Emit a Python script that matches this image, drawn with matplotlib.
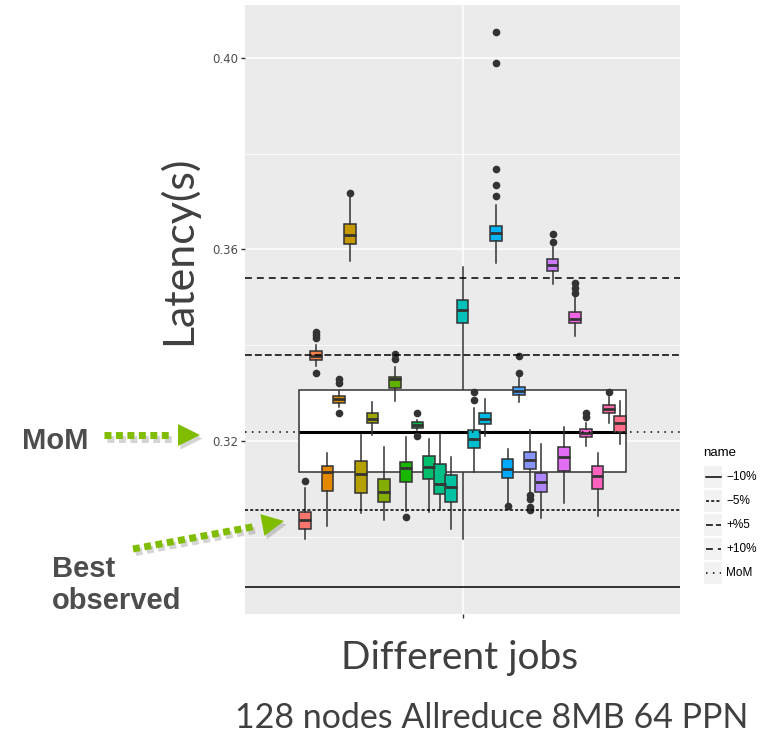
import numpy as np
import matplotlib
matplotlib.use('Agg')
import matplotlib.pyplot as plt
from matplotlib.lines import Line2D
from matplotlib.patches import Rectangle, Polygon

# ---- data (latency in seconds), one entry per job ----
job_med = [0.3035, 0.3378, 0.3136, 0.3287, 0.3630, 0.3131, 0.3247, 0.3093, 0.3330, 0.3143,
           0.3233, 0.3146, 0.3110, 0.3105, 0.3474, 0.3204, 0.3246, 0.3634, 0.3142, 0.3305,
           0.3160, 0.3115, 0.3568, 0.3167, 0.3455, 0.3217, 0.3127, 0.3267, 0.3237]
job_q1 = [0.3016, 0.3369, 0.3096, 0.3279, 0.3611, 0.3092, 0.3237, 0.3072, 0.3310, 0.3114,
          0.3228, 0.3120, 0.3089, 0.3073, 0.3447, 0.3185, 0.3235, 0.3618, 0.3123, 0.3296,
          0.3141, 0.3093, 0.3556, 0.3137, 0.3446, 0.3209, 0.3099, 0.3258, 0.3218]
job_q3 = [0.3051, 0.3388, 0.3148, 0.3295, 0.3653, 0.3158, 0.3258, 0.3121, 0.3334, 0.3157,
          0.3239, 0.3169, 0.3152, 0.3130, 0.3495, 0.3223, 0.3258, 0.3650, 0.3162, 0.3313,
          0.3178, 0.3134, 0.3580, 0.3188, 0.3470, 0.3225, 0.3148, 0.3275, 0.3253]
job_lo = [0.2995, 0.3357, 0.3023, 0.3271, 0.3576, 0.3049, 0.3213, 0.3036, 0.3284, 0.3054,
          0.3223, 0.3051, 0.3057, 0.3016, 0.2995, 0.3135, 0.3210, 0.3571, 0.3070, 0.3281,
          0.3091, 0.3040, 0.3527, 0.3070, 0.3420, 0.3190, 0.3044, 0.3238, 0.3193]
job_hi = [0.3103, 0.3401, 0.3176, 0.3304, 0.3710, 0.3213, 0.3281, 0.3187, 0.3355, 0.3208,
          0.3244, 0.3204, 0.3215, 0.3166, 0.3563, 0.3270, 0.3287, 0.3693, 0.3183, 0.3334,
          0.3223, 0.3194, 0.3606, 0.3230, 0.3503, 0.3238, 0.3176, 0.3293, 0.3284]
job_fliers = [[0.3117], [0.3428, 0.3421, 0.3415, 0.3343], [], [0.3329, 0.3321, 0.3258],
              [0.3717], [], [], [], [0.3382, 0.3371], [0.3042],
              [0.3259, 0.3210], [], [], [], [],
              [0.3302, 0.3286], [], [0.3712, 0.3735, 0.3768, 0.3990, 0.4053], [0.3064],
              [0.3343, 0.3378], [0.3087, 0.3080, 0.3062, 0.3056], [],
              [0.3632, 0.3616], [], [0.3529, 0.3519, 0.3509], [0.3258, 0.3251], [],
              [0.3303], []]

# box of all jobs' medians
mom_q1, mom_med, mom_q3 = 0.3135, 0.3218, 0.3307

ref_names = ['\u221210%', '\u22125%', '+%5', '+10%', 'MoM']
ref_values = [0.2896, 0.3057, 0.3379, 0.3540, 0.3218]
ref_styles = ['-', (0, (2, 1.4)), (0, (4.5, 2)), (0, (4.5, 3.3)), (0, (1, 3.5))]


def hcl_hex(h, c=100, l=65):
    # ggplot2 hue palette colour (polar Luv -> sRGB)
    hr = np.deg2rad(h)
    U, V = c * np.cos(hr), c * np.sin(hr)
    Y = 100 * ((l + 16) / 116) ** 3
    XN, YN, ZN = 95.047, 100.0, 108.883
    den = XN + 15 * YN + 3 * ZN
    u = U / (13 * l) + 4 * XN / den
    v = V / (13 * l) + 9 * YN / den
    X = 9 * Y * u / (4 * v)
    Z = -X / 3 - 5 * Y + 3 * Y / v
    X, Y, Z = X / 100, Y / 100, Z / 100
    rgb = np.array([3.240479 * X - 1.537150 * Y - 0.498535 * Z,
                    -0.969256 * X + 1.875992 * Y + 0.041556 * Z,
                    0.055648 * X - 0.204043 * Y + 1.057311 * Z])
    rgb = np.where(rgb <= 0.0031308, 12.92 * rgb, 1.055 * np.abs(rgb) ** (1 / 2.4) - 0.055)
    return tuple(np.clip(rgb, 0, 1))


n = len(job_med)
positions = np.arange(1, n + 1)
center = (n + 1) / 2
colors = [hcl_hex(15 + 360 * i / n) for i in range(n)]

W, H = 767, 733
fig = plt.figure(figsize=(W / 100, H / 100), dpi=100)
ax = fig.add_axes([245 / W, 1 - 614 / H, 435 / W, 609.3 / H])
ax.set_facecolor('#EBEBEB')
for s in ax.spines.values():
    s.set_visible(False)

ax.set_xlim(center - 19.33, center + 19.33)
ax.set_ylim(0.2839, 0.4111)
ax.set_yticks([0.32, 0.36, 0.40])
ax.set_yticklabels(['0.32', '0.36', '0.40'])
ax.set_yticks([0.30, 0.34, 0.38], minor=True)
ax.set_xticks([center])
ax.set_xticklabels([''])
ax.tick_params(which='major', length=3, width=1, color='#333333', labelsize=8.5,
               labelcolor='#4D4D4D', pad=2)
ax.tick_params(which='minor', length=0)
ax.grid(which='major', color='white', lw=1.1)
ax.grid(which='minor', axis='y', color='white', lw=0.6)
ax.set_axisbelow(True)

# one box per job
for i in range(n):
    st = dict(med=job_med[i], q1=job_q1[i], q3=job_q3[i],
              whislo=job_lo[i], whishi=job_hi[i], fliers=job_fliers[i])
    z = 2 if positions[i] == center else 3
    ax.bxp([st], positions=[positions[i]], widths=1.05, patch_artist=True,
           showcaps=False, manage_ticks=False, zorder=z,
           boxprops=dict(facecolor=colors[i], edgecolor='#333333', lw=1.1),
           medianprops=dict(color='#333333', lw=2),
           whiskerprops=dict(color='#333333', lw=1.1),
           flierprops=dict(marker='o', markerfacecolor='#333333',
                           markeredgecolor='#333333', markersize=4.5))

# wide box over all jobs
big = dict(med=mom_med, q1=mom_q1, q3=mom_q3, whislo=mom_q1, whishi=mom_q3, fliers=[])
ax.bxp([big], positions=[center], widths=n + 0.05, patch_artist=True,
       showcaps=False, manage_ticks=False, zorder=2.5,
       boxprops=dict(facecolor='white', edgecolor='#333333', lw=1.1),
       medianprops=dict(color='black', lw=2.2),
       whiskerprops=dict(color='#333333', lw=1.1))

for v, ls in zip(ref_values, ref_styles):
    ax.axhline(v, color='black', lw=1.1, linestyle=ls, zorder=4)


def fx(x):
    return x / W


def fy(y):
    return 1 - y / H


# legend
fig.text(fx(703), fy(453), 'name', fontsize=9.5, family='Liberation Sans', va='center')
for k, (name, ls) in enumerate(zip(ref_names, ref_styles)):
    yc = 477 + 24 * k
    fig.add_artist(Rectangle((fx(704), fy(yc + 11)), 18 / W, 22 / H,
                             transform=fig.transFigure, facecolor='#F2F2F2', edgecolor='none'))
    fig.add_artist(Line2D([fx(705.5), fx(720.5)], [fy(yc), fy(yc)], color='black',
                          lw=1.1, linestyle=ls, transform=fig.transFigure))
    fig.text(fx(726), fy(yc), name, fontsize=8.5, family='Liberation Sans',
             va='center', color='black')

# slide texts
fig.text(fx(178), fy(250), 'Latency(s)', rotation=90, fontsize=31, family='Lato',
         color='#404040', ha='center', va='center')
fig.text(fx(460), fy(658), 'Different jobs', fontsize=28, family='Lato',
         color='#404040', ha='center', va='center')
fig.text(fx(492), fy(718), '128 nodes Allreduce 8MB 64 PPN', fontsize=24.5, family='Lato',
         color='#404040', ha='center', va='center')

fig.text(fx(22), fy(449), 'MoM', fontsize=21, weight='bold', family='Liberation Sans',
         color='#4D4D4D', va='baseline')
fig.text(fx(52), fy(577), 'Best', fontsize=21, weight='bold', family='Liberation Sans',
         color='#4D4D4D', va='baseline')
fig.text(fx(52), fy(609), 'observed', fontsize=21, weight='bold', family='Liberation Sans',
         color='#4D4D4D', va='baseline')

green = '#80BC00'


def dotted_arrow(x0, y0, x1, y1, head_len=22, head_w=22):
    # dotted green arrow with a soft shadow, in pixel coordinates
    d = np.array([x1 - x0, y1 - y0], float)
    L = np.hypot(*d)
    u = d / L
    nrm = np.array([-u[1], u[0]])
    base = np.array([x1, y1]) - u * head_len
    tri = [base + nrm * head_w / 2, np.array([x1, y1]), base - nrm * head_w / 2]
    stop = base - u * 7
    for off, col, a in [((2.5, 3.5), '#555555', 0.25), ((0, 0), green, 1.0)]:
        fig.add_artist(Line2D([fx(x0 + off[0]), fx(stop[0] + off[0])],
                              [fy(y0 + off[1]), fy(stop[1] + off[1])],
                              transform=fig.transFigure, color=col, alpha=a, lw=5,
                              linestyle=(0, (1, 0.65)), solid_capstyle='butt',
                              dash_capstyle='butt'))
        fig.add_artist(Polygon([(fx(p[0] + off[0]), fy(p[1] + off[1])) for p in tri],
                               closed=True, transform=fig.transFigure,
                               facecolor=col, edgecolor='none', alpha=a))


dotted_arrow(104, 435, 200, 435)
dotted_arrow(133, 549, 284, 521)

fig.savefig('out.png', dpi=100)
